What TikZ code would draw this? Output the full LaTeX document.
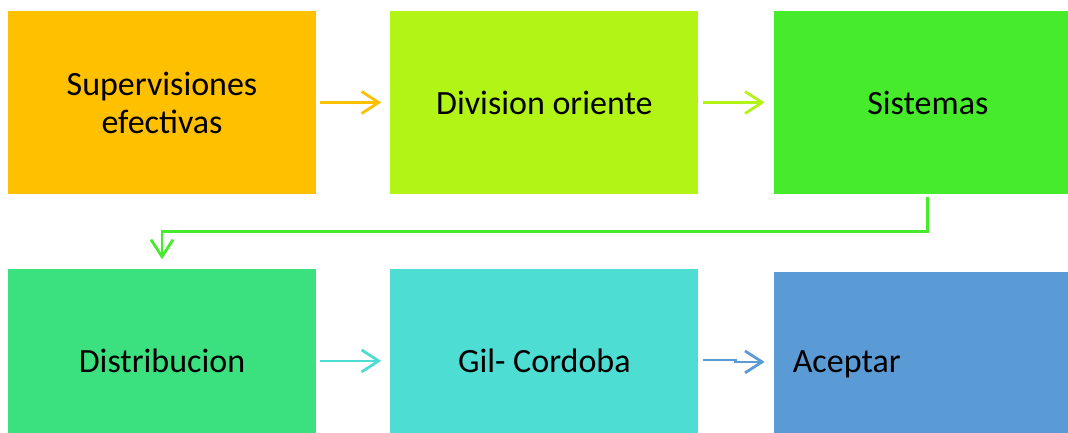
\documentclass[tikz,border=0pt]{standalone}
\usepackage{fontspec}
\setmainfont{Carlito}
\usetikzlibrary{arrows.meta,positioning}

\definecolor{amber}{HTML}{FFC000}
\definecolor{lime}{HTML}{B3F417}
\definecolor{grass}{HTML}{46EC2C}
\definecolor{mint}{HTML}{3BE07F}
\definecolor{aqua}{HTML}{4DDDD3}
\definecolor{steel}{HTML}{5B9BD5}

\begin{document}
\begin{tikzpicture}[x=1pt, y=1pt,
  every node/.style={minimum width=308pt, minimum height=183pt, inner sep=0pt, text centered, font=\fontsize{34}{38}\selectfont},
  conn/.style={line width=2.8pt, -{Straight Barb[length=17pt, width=22pt]}, shorten <=4pt, shorten >=9pt}]
\useasboundingbox (0,0) rectangle (1068,432);
\clip (0,0) rectangle (1068,432);

% upper row
\node[fill=amber, align=center] (superv) at (162,329.5) {Supervisiones\\efectivas};
\node[fill=lime, right=74pt of superv] (division) {Division oriente};
\node[fill=grass, right=75pt of division] (sistemas) {Sistemas};

% lower row
\node[fill=mint, below=75pt of superv] (distrib) {Distribucion};
\node[fill=aqua, right=74pt of distrib] (gil) {Gil- Cordoba};
\node[fill=steel, right=75pt of gil, yshift=-3pt, text width=270pt, align=left] (aceptar) {Aceptar};

\draw[conn, amber] (superv) -- (division);
\draw[conn, lime] (division) -- (sistemas);
\draw[conn, grass, shorten <=3pt, shorten >=10pt] (sistemas.south) -- ++(0,-37) -| (distrib.north);
\draw[conn, aqua] (distrib) -- (gil);
\draw[conn, steel] ([yshift=1pt]gil.east) -- ++(37,0) |- ([yshift=2pt]aceptar.west);
\end{tikzpicture}
\end{document}
